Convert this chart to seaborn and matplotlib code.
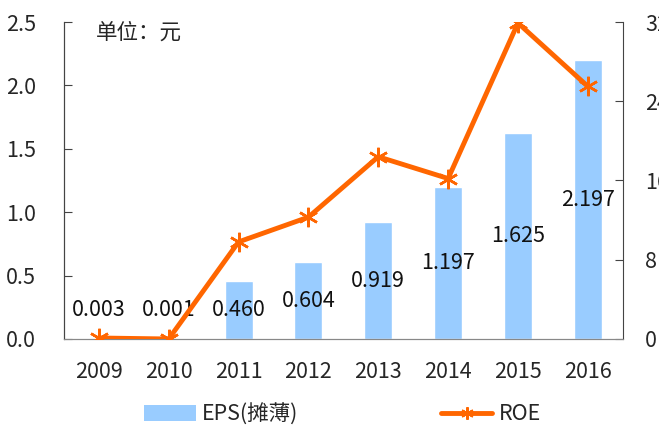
import numpy as np
import pandas as pd
import seaborn as sns
import matplotlib.pyplot as plt
from matplotlib.patches import Patch
from matplotlib.lines import Line2D

years = ['2009', '2010', '2011', '2012', '2013', '2014', '2015', '2016']
eps = [0.003, 0.001, 0.460, 0.604, 0.919, 1.197, 1.625, 2.197]
roe = [0.1, 0.0, 9.8, 12.3, 18.4, 16.2, 31.9, 25.5]
eps_labels = ['0.003', '0.001', '0.460', '0.604', '0.919', '1.197', '1.625', '2.197']

sns.set_style('white')
plt.rcParams['font.family'] = ['Noto Sans CJK SC', 'DejaVu Sans']
fs = 15.5
plt.rcParams['font.size'] = fs

bar_color = '#99CCFF'
line_color = '#FF6600'

df = pd.DataFrame({'year': years, 'eps': eps, 'roe': roe})

fig = plt.figure(figsize=(6.59, 4.25), dpi=100)
ax = fig.add_axes([0.097, 0.2024, 0.848, 0.7458])

sns.barplot(data=df, x='year', y='eps', color=bar_color, width=0.4,
            saturation=1, ax=ax)
ax.set_xlim(-0.5, 7.5)
ax.set_ylim(0, 2.5)
ax.set_yticks(np.arange(0, 2.51, 0.5))
ax.set_yticklabels(['%.1f' % v for v in np.arange(0, 2.51, 0.5)])
ax.set_xlabel('')
ax.set_ylabel('')

# data labels inside the bars
for i, (v, t) in enumerate(zip(eps, eps_labels)):
    ax.text(i, max(v / 2, 0.23), t, ha='center', va='center', fontsize=fs,
            color='#111111', zorder=5)

ax2 = ax.twinx()
ax2.plot(np.arange(len(years)), roe, color=line_color, lw=3.5,
         marker=(6, 2, 0), markersize=14, markeredgewidth=1.8,
         markeredgecolor=line_color, zorder=4)
ax2.set_ylim(0, 32)
ax2.set_yticks([0, 8, 16, 24, 32])

# minor ticks between categories on the x axis
ax.set_xticks(np.arange(-0.5, 8, 1), minor=True)
ax.tick_params(axis='x', which='major', length=0, pad=16, labelsize=fs)
ax.tick_params(axis='x', which='minor', direction='in', length=5, color='#888888')
ax.tick_params(axis='y', direction='in', length=6, pad=20, color='#444444',
               left=True, labelsize=fs)
ax2.tick_params(axis='y', direction='in', length=6, pad=16, color='#444444',
                right=True, labelsize=fs)

for a in (ax, ax2):
    a.spines['top'].set_visible(False)
    a.spines['left'].set_color('#444444')
    a.spines['right'].set_color('#444444')
    a.spines['bottom'].set_color('#888888')
ax.spines['right'].set_visible(False)

ax.text(0.058, 0.965, '单位：元', transform=ax.transAxes, ha='left', va='center',
        fontsize=fs)

handles = [Patch(facecolor=bar_color, edgecolor='none'),
           Line2D([], [], color=line_color, lw=3.5, marker=(6, 2, 0),
                  markersize=9, markeredgewidth=1.5)]
fig.legend(handles, ['EPS(摊薄)', 'ROE'], loc='center', ncol=2,
           bbox_to_anchor=(0.52, 0.025), frameon=False, fontsize=fs,
           handlelength=2.4, handleheight=0.8, columnspacing=6.6,
           handletextpad=0.3)

fig.savefig('out.png', dpi=100)
